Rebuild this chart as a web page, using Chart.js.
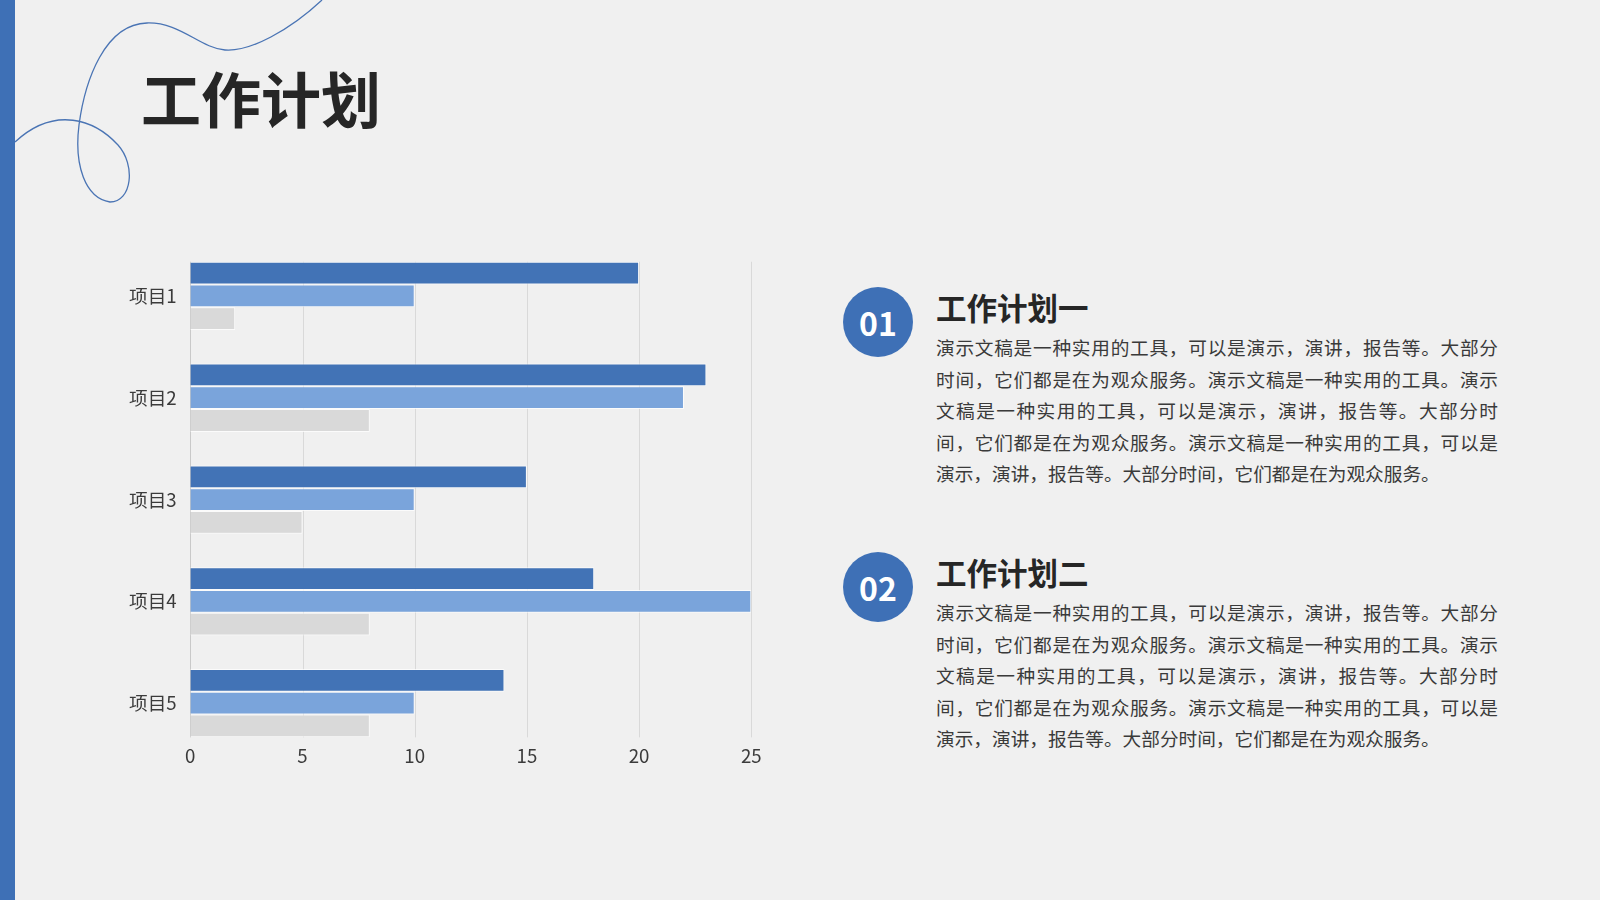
<!DOCTYPE html>
<html lang="zh-CN">
<head>
<meta charset="utf-8">
<title>工作计划</title>
<script src="https://cdn.jsdelivr.net/npm/chart.js@4.4.1/dist/chart.umd.min.js"></script>
<style>
  html, body { margin: 0; padding: 0; }
  body {
    width: 1600px; height: 900px; position: relative; overflow: hidden;
    background: #f0f0f0; color: #262626;
    font-family: "Noto Sans CJK SC", "Noto Sans", sans-serif;
  }
  .strip { position: absolute; left: 0; top: 0; width: 15px; height: 900px; background: #3e70b6; }
  .deco { position: absolute; left: 0; top: 0; }
  .title { position: absolute; left: 141px; top: 67px; font-size: 60px; line-height: 60px; font-weight: 700; }
  #chartBox { position: absolute; left: 100px; top: 205px; width: 700px; height: 600px; }
  .badge {
    position: absolute; left: 843px; width: 70px; height: 70px; border-radius: 50%;
    background: #3e70b6; color: #fff; font-weight: 700; font-size: 32px;
    display: flex; align-items: center; justify-content: center; line-height: 1;
  }
  .head { position: absolute; left: 936px; font-size: 30.5px; line-height: 30px; font-weight: 700; }
  .body { position: absolute; left: 936px; width: 562px; font-size: 18.67px; line-height: 31.6px; color: #3a3a3a; }
  .body div { text-align: justify; text-align-last: justify; white-space: nowrap; }
  .body div.last { text-align-last: left; }
</style>
</head>
<body>
<svg class="deco" width="400" height="240" viewBox="0 0 400 240">
  <path d="M322,0 C290,30 250,52 225,50 C200,48 180,22 147,23 C105,24 85,80 79,125 C74,165 85,198 110,202 C132,202 136,165 118,145 C95,120 55,105 15,142"
        fill="none" stroke="#4a74b4" stroke-width="1.3"/>
</svg>
<div class="strip"></div>
<div class="title">工作计划</div>

<div id="chartBox"><canvas id="barChart"></canvas></div>

<div class="badge" style="top:287px;">01</div>
<div class="head" style="top:292px;">工作计划一</div>
<div class="body" style="top:331px;">
  <div>演示文稿是一种实用的工具，可以是演示，演讲，报告等。大部分</div>
  <div>时间，它们都是在为观众服务。演示文稿是一种实用的工具。演示</div>
  <div>文稿是一种实用的工具，可以是演示，演讲，报告等。大部分时</div>
  <div>间，它们都是在为观众服务。演示文稿是一种实用的工具，可以是</div>
  <div class="last">演示，演讲，报告等。大部分时间，它们都是在为观众服务。</div>
</div>

<div class="badge" style="top:552px;">02</div>
<div class="head" style="top:557px;">工作计划二</div>
<div class="body" style="top:596px;">
  <div>演示文稿是一种实用的工具，可以是演示，演讲，报告等。大部分</div>
  <div>时间，它们都是在为观众服务。演示文稿是一种实用的工具。演示</div>
  <div>文稿是一种实用的工具，可以是演示，演讲，报告等。大部分时</div>
  <div>间，它们都是在为观众服务。演示文稿是一种实用的工具，可以是</div>
  <div class="last">演示，演讲，报告等。大部分时间，它们都是在为观众服务。</div>
</div>

<script>
const categories = ['项目1', '项目2', '项目3', '项目4', '项目5'];
const series1 = [20, 23, 15, 18, 14];
const series2 = [10, 22, 10, 25, 10];
const series3 = [2, 8, 5, 8, 8];
const xTicks = [0, 5, 10, 15, 20, 25];

const CATEGORY_PCT = 0.671;

Chart.defaults.font.family = '"Noto Sans CJK SC", "Noto Sans", sans-serif';
Chart.defaults.font.size = 18.67;
Chart.defaults.color = '#3b3b3b';

// grid lines only as tall as the bar groups, like the original
const trimmedGrid = {
  id: 'trimmedGrid',
  beforeDatasetsDraw(chart) {
    const { ctx, chartArea, scales: { x } } = chart;
    const band = (chartArea.bottom - chartArea.top) / categories.length;
    const inset = band * (1 - CATEGORY_PCT) / 2;
    const top = chartArea.top + inset;
    const bottom = chartArea.bottom - inset;
    ctx.save();
    ctx.lineWidth = 1;
    xTicks.forEach(v => {
      const px = Math.round(x.getPixelForValue(v)) + 0.5;
      ctx.strokeStyle = v === 0 ? '#c9c9c9' : '#d9d9d9';
      ctx.beginPath();
      ctx.moveTo(px, top);
      ctx.lineTo(px, bottom);
      ctx.stroke();
    });
    ctx.restore();
  }
};

function makeSet(label, data, color) {
  return {
    label: label,
    data: data,
    backgroundColor: color,
    borderColor: 'rgba(255,255,255,0.75)',
    borderWidth: 1,
    barPercentage: 1,
    categoryPercentage: CATEGORY_PCT
  };
}

new Chart(document.getElementById('barChart').getContext('2d'), {
  type: 'bar',
  data: {
    labels: categories,
    datasets: [
      makeSet('系列1', series1, '#4273b6'),
      makeSet('系列2', series2, '#7aa4db'),
      makeSet('系列3', series3, '#d9d9d9')
    ]
  },
  options: {
    indexAxis: 'y',
    responsive: true,
    maintainAspectRatio: false,
    animation: false,
    layout: { padding: { top: 40, left: 0, right: 48.7, bottom: 20 } },
    plugins: {
      legend: { display: false },
      tooltip: { enabled: false }
    },
    scales: {
      x: {
        min: xTicks[0],
        max: xTicks[xTicks.length - 1],
        grid: { display: false, drawTicks: false },
        border: { display: false },
        // mirrored so the labels are not clipped to the axis box
        ticks: { stepSize: xTicks[1] - xTicks[0], mirror: true, padding: -12.7 },
        afterFit(scale) { scale.height = 30.9; }
      },
      y: {
        grid: { display: false, drawTicks: false },
        border: { display: false },
        ticks: { padding: 13.6, autoSkip: false },
        afterFit(scale) { scale.width = 90.3; }
      }
    }
  },
  plugins: [trimmedGrid]
});
</script>
</body>
</html>
